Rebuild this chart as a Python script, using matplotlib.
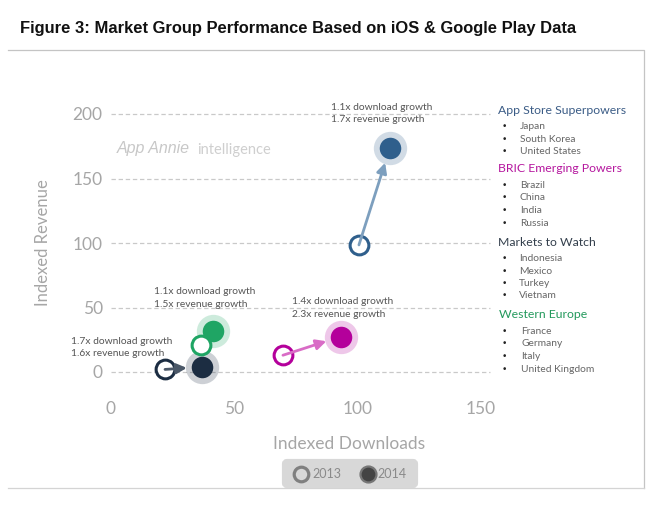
import matplotlib
matplotlib.use("Agg")
import matplotlib.pyplot as plt
from matplotlib.patches import FancyBboxPatch

W, H = 654, 512
FONT = "Lato"

groups = ["App Store Superpowers", "BRIC Emerging Powers", "Markets to Watch", "Western Europe"]
members = [["Japan", "South Korea", "United States"],
           ["Brazil", "China", "India", "Russia"],
           ["Indonesia", "Mexico", "Turkey", "Vietnam"],
           ["France", "Germany", "Italy", "United Kingdom"]]
dl_2013 = [100.5, 69.7, 21.9, 36.5]
rev_2013 = [98.5, 13, 2, 21]
dl_2014 = [113, 93.2, 36.9, 41.3]
rev_2014 = [173.5, 27.5, 4, 32]
growth = [["1.1x download growth", "1.7x revenue growth"],
          ["1.4x download growth", "2.3x revenue growth"],
          ["1.7x download growth", "1.6x revenue growth"],
          ["1.1x download growth", "1.5x revenue growth"]]
xticks = [0, 50, 100, 150]
yticks = [0, 50, 100, 150, 200]
colors = ["#2f5f8c", "#b4009b", "#1c2d42", "#1fa564"]
arrow_colors = ["#7d9fbe", "#d96cc6", "#4b5868", None]  # gruen: pfeil nicht sichtbar
title_colors = ["#3b5c86", "#b5179e", "#333f4c", "#23995c"]


def fx(x):
    return x / W


def fy(y):
    return 1 - y / H


fig = plt.figure(figsize=(W / 100, H / 100), dpi=100)
# achse: x 0..153.6 auf px 111..490, y 0..200 auf px 372..114
ax = fig.add_axes([fx(111), fy(372), (490 - 111) / W, (372 - 114) / H])
ax.set_xlim(0, (490 - 111) / 2.467)
ax.set_ylim(0, 200)
for s in ax.spines.values():
    s.set_visible(False)
ax.set_xticks(xticks)
ax.set_yticks(yticks)
ax.tick_params(length=0)
ax.tick_params(axis="x", pad=21)
ax.tick_params(axis="y", pad=6)
for lab in ax.get_xticklabels() + ax.get_yticklabels():
    lab.set(fontsize=12.5, color="#a6a6a6", family=FONT)
ax.grid(axis="y", color="#c9c9c9", lw=0.9, ls=(0, (3.5, 2.2)), clip_on=False)
ax.set_axisbelow(True)

for i in range(4):
    c = colors[i]
    ax.plot(dl_2014[i], rev_2014[i], "o", ms=24, color=c, alpha=0.22, mew=0, clip_on=False, zorder=2)
    ax.plot(dl_2014[i], rev_2014[i], "o", ms=15.5, color=c, mew=0, clip_on=False, zorder=4)
    ax.plot(dl_2013[i], rev_2013[i], "o", ms=13.5, mfc="white", mec=c, mew=2.2, clip_on=False, zorder=4)
    if arrow_colors[i]:
        ax.annotate("", xy=(dl_2014[i], rev_2014[i]), xytext=(dl_2013[i], rev_2013[i]),
                    arrowprops=dict(arrowstyle="-|>", color=arrow_colors[i], lw=2,
                                    mutation_scale=15, shrinkA=0, shrinkB=11), zorder=5)

# wachstums-labels, position in px
label_xy = [(331, 107), (292, 302), (71, 341), (154, 292)]
for (x, y), lines in zip(label_xy, growth):
    for k, t in enumerate(lines):
        fig.text(fx(x), fy(y + k * 12.8), t, fontsize=7.4, color="#555555", family=FONT, va="center")

fig.text(fx(20), fy(29), "Figure 3: Market Group Performance Based on iOS & Google Play Data",
         fontsize=11.88, fontweight="bold", family="Liberation Sans", color="#111111", va="center")
fig.text(fx(43), fy(243), "Indexed Revenue", rotation=90, fontsize=12, color="#a6a6a6",
         family=FONT, ha="center", va="center")
fig.text(fx(349), fy(444), "Indexed Downloads", fontsize=12.5, color="#a6a6a6", family=FONT,
         ha="center", va="center")
fig.text(fx(117), fy(149), "App Annie", fontsize=11.5, style="italic", color="#c8c8c8",
         family="Liberation Sans", va="center")
fig.text(fx(197), fy(150), "intelligence", fontsize=10.5, color="#cfcfcf", family=FONT, va="center")

# rechte liste
head_y = [110, 169, 242, 315]
head_x = [498, 498, 498, 499]
item_x = [520, 520, 519, 521]
for i in range(4):
    fig.text(fx(head_x[i]), fy(head_y[i]), groups[i], fontsize=8.8, color=title_colors[i],
             family=FONT, va="center")
    for k, m in enumerate(members[i]):
        y = head_y[i] + 16.5 + k * 12.5
        fig.text(fx(502), fy(y), "•", fontsize=6.5, color="#222222", family="DejaVu Sans", va="center")
        fig.text(fx(item_x[i]), fy(y), m, fontsize=7.4, color="#666666", family=FONT, va="center")

# rahmen
fig.add_artist(plt.Line2D([fx(8), fx(644), fx(644)], [fy(50), fy(50), fy(488)], color="#c4c4c4", lw=0.9))
fig.add_artist(plt.Line2D([fx(8), fx(644)], [fy(488), fy(488)], color="#d4d4d4", lw=0.9))

# legende, overlay in px
leg = fig.add_axes([0, 0, 1, 1], facecolor="none", zorder=5)
leg.set_axis_off()
leg.set_xlim(0, W)
leg.set_ylim(H, 0)
leg.add_patch(FancyBboxPatch((284, 461), 132, 25, boxstyle="round,pad=0,rounding_size=3",
                             fc="#d8d8d8", ec="#d8d8d8", lw=3))
leg.plot(301, 474, "o", ms=10.5, mfc="none", mec="#808080", mew=2.3)
leg.plot(368, 474, "o", ms=11.5, mfc="#444444", mec="#777777", mew=1.6)
leg.text(312, 474, "2013", fontsize=9, color="#8a8a8a", family=FONT, va="center")
leg.text(377, 474, "2014", fontsize=9, color="#8a8a8a", family=FONT, va="center")

fig.savefig("out.png", dpi=100)
